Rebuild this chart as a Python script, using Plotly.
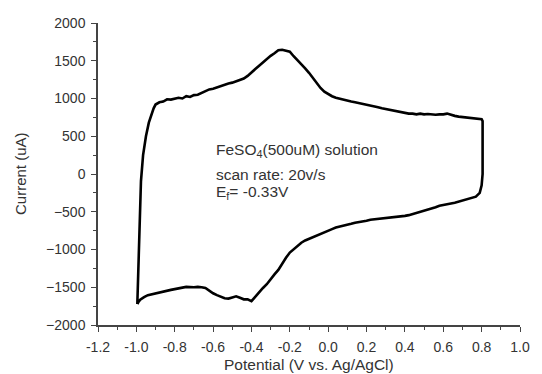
import plotly.graph_objects as go

# Forward (anodic) scan: -1.0 V -> 0.8 V
fwd_x = [-0.995, -0.99, -0.985, -0.98, -0.976, -0.965, -0.95, -0.935, -0.925, -0.91, -0.90,
         -0.88, -0.86, -0.84, -0.82, -0.80, -0.78, -0.76, -0.74, -0.72, -0.70, -0.68, -0.66,
         -0.64, -0.62, -0.60, -0.58, -0.56, -0.54, -0.52, -0.50, -0.48, -0.46, -0.44, -0.42,
         -0.40, -0.38, -0.36, -0.34, -0.32, -0.30, -0.28, -0.26, -0.24, -0.22, -0.20, -0.18,
         -0.16, -0.14, -0.12, -0.10, -0.08, -0.06, -0.04, -0.02, 0.00, 0.02, 0.04, 0.06, 0.08,
         0.10, 0.12, 0.14, 0.16, 0.18, 0.20, 0.22, 0.24, 0.26, 0.28, 0.30, 0.32, 0.34, 0.36,
         0.38, 0.40, 0.42, 0.44, 0.46, 0.48, 0.50, 0.52, 0.54, 0.56, 0.58, 0.60, 0.62, 0.64,
         0.66, 0.68, 0.70, 0.72, 0.74, 0.76, 0.78, 0.80]
fwd_y = [-1722, -1300, -980, -500, -93, 250, 500, 680, 770, 870, 920,
         950, 960, 990, 985, 1000, 1010, 1000, 1030, 1020, 1045, 1050, 1075,
         1090, 1120, 1130, 1150, 1170, 1185, 1200, 1210, 1230, 1245, 1265, 1300,
         1340, 1390, 1435, 1480, 1520, 1565, 1600, 1640, 1645, 1630, 1620, 1560,
         1510, 1460, 1400, 1340, 1270, 1200, 1140, 1090, 1055, 1030, 1010, 995, 990,
         970, 960, 950, 940, 930, 915, 905, 895, 885, 870, 860, 850, 840, 825,
         815, 805, 800, 800, 790, 800, 790, 795, 790, 785, 790, 790, 800, 780,
         770, 760, 755, 745, 740, 735, 725, 725]

# Switching at 0.8 V and reverse (cathodic) scan: 0.8 V -> -1.0 V
rev_x = [0.805, 0.805, 0.805, 0.80, 0.79, 0.77, 0.745, 0.72, 0.70, 0.68, 0.66, 0.64, 0.62,
         0.60, 0.58, 0.56, 0.54, 0.52, 0.50, 0.48, 0.46, 0.44, 0.42, 0.40, 0.38, 0.36,
         0.34, 0.32, 0.30, 0.28, 0.26, 0.24, 0.22, 0.20, 0.18, 0.16, 0.14, 0.12, 0.10,
         0.08, 0.06, 0.04, 0.02, 0.00, -0.02, -0.04, -0.06, -0.08, -0.10, -0.12, -0.14,
         -0.16, -0.18, -0.20, -0.22, -0.24, -0.26, -0.28, -0.30, -0.32, -0.34, -0.36,
         -0.38, -0.40, -0.42, -0.44, -0.46, -0.48, -0.50, -0.52, -0.54, -0.56, -0.58,
         -0.60, -0.62, -0.64, -0.66, -0.68, -0.70, -0.72, -0.74, -0.76, -0.78, -0.80,
         -0.82, -0.84, -0.86, -0.88, -0.90, -0.92, -0.94, -0.96, -0.98, -0.99, -0.995]
rev_y = [700, 400, 0, -150, -250, -300, -320, -340, -355, -370, -380, -390, -400,
         -410, -420, -440, -455, -480, -490, -500, -520, -530, -545, -555, -560, -570,
         -575, -580, -585, -590, -590, -595, -605, -620, -625, -635, -645, -660, -670,
         -680, -695, -710, -730, -750, -780, -800, -820, -835, -855, -880, -910,
         -950, -990, -1040, -1110, -1195, -1270, -1330, -1400, -1460, -1510, -1570,
         -1630, -1685, -1660, -1660, -1640, -1620, -1635, -1650, -1645, -1630, -1605,
         -1580, -1545, -1510, -1500, -1495, -1500, -1500, -1495, -1505, -1510, -1525,
         -1535, -1545, -1555, -1565, -1575, -1590, -1605, -1630, -1665, -1700, -1722]

x_ticks = [-1.2, -1.0, -0.8, -0.6, -0.4, -0.2, 0.0, 0.2, 0.4, 0.6, 0.8, 1.0]
y_ticks = [-2000, -1500, -1000, -500, 0, 500, 1000, 1500, 2000]

FAM = "Liberation Sans, Arial, sans-serif"
TXT = "#333333"
AX = "#444444"

fig = go.Figure()
fig.add_trace(go.Scatter(x=fwd_x + rev_x, y=fwd_y + rev_y, mode="lines",
                         line=dict(color="black", width=2.6), showlegend=False))

fig.update_layout(
    width=542, height=374,
    margin=dict(l=98, r=12, t=23, b=49),
    paper_bgcolor="white", plot_bgcolor="white",
    font=dict(family=FAM, size=14, color=TXT),
    xaxis=dict(range=[-1.2, 1.0], tickvals=x_ticks,
               ticktext=[f"{v:.1f}" for v in x_ticks],
               showgrid=False, zeroline=False, showline=True, linecolor=AX,
               linewidth=1.5, ticks="outside", ticklen=5, tickcolor=AX,
               ticklabelstandoff=3,
               minor=dict(ticks="outside", ticklen=3, dtick=0.1, tickcolor=AX)),
    yaxis=dict(range=[-2000, 2000], tickvals=y_ticks,
               showgrid=False, zeroline=False, showline=True, linecolor=AX,
               linewidth=1.5, ticks="outside", ticklen=5, tickcolor=AX,
               ticklabelstandoff=3,
               minor=dict(ticks="outside", ticklen=3, dtick=250, tickcolor=AX)),
)

# Axis titles
fig.add_annotation(x=0.5, y=0, xref="paper", yref="paper", text="Potential (V vs. Ag/AgCl)",
                   showarrow=False, xanchor="center", yanchor="middle", yshift=-39,
                   font=dict(family=FAM, size=15.5, color=TXT))
fig.add_annotation(x=0, y=0.5, xref="paper", yref="paper", text="Current (uA)",
                   showarrow=False, xanchor="center", yanchor="middle", xshift=-78,
                   textangle=-90, font=dict(family=FAM, size=15, color=TXT))

notes = ["FeSO<sub>4</sub>(500uM) solution", "scan rate: 20v/s", "E<sub>f</sub>= -0.33V"]
note_y = [305, 0, -245]
for t, yv in zip(notes, note_y):
    fig.add_annotation(x=-0.594, y=yv, xref="x", yref="y", text=t, showarrow=False,
                       xanchor="left", yanchor="middle",
                       font=dict(family=FAM, size=15.5, color=TXT))

fig.write_html("out.html")
